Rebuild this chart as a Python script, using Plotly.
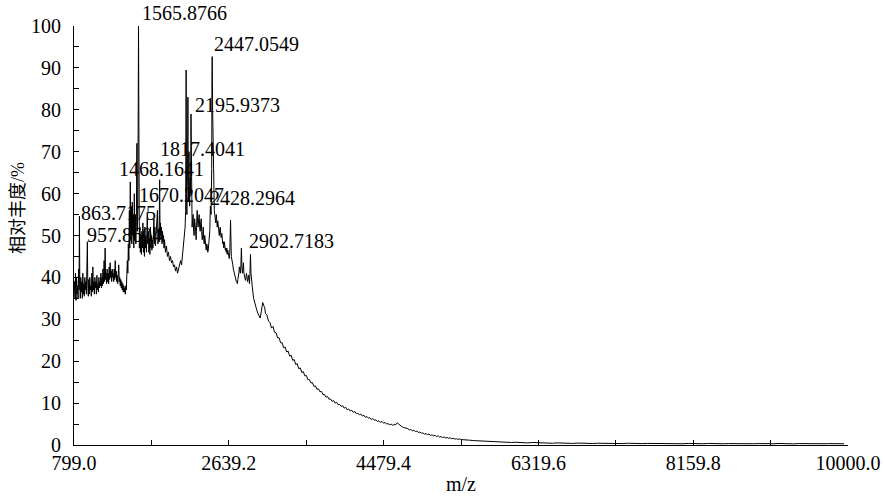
import plotly.graph_objects as go

# ---- spectrum (m/z, relative abundance %) ----
mz_peaks_region = [
    799, 805, 811, 817, 823, 829, 835, 841, 847, 853, 859, 863.7, 868, 874, 880, 886, 892, 898,
    904, 910, 916, 922, 928, 934, 940, 946, 952, 957.9, 963, 969, 975, 981, 987, 993, 999, 1005,
    1011, 1017, 1023, 1029, 1035, 1041, 1047, 1053, 1059, 1065, 1071, 1077, 1083, 1089, 1095,
    1101, 1107, 1113, 1119, 1125, 1131, 1137, 1143, 1149, 1157, 1163, 1169, 1175, 1181, 1187,
    1193, 1199, 1205, 1211, 1217, 1223, 1229, 1235, 1241, 1247, 1253, 1259, 1265, 1271, 1277,
    1283, 1289, 1295, 1301, 1307, 1313, 1319, 1325, 1331, 1337, 1343, 1349, 1355, 1361, 1367,
    1373, 1379, 1385, 1391, 1397, 1403, 1409, 1415, 1421, 1427, 1433, 1439, 1445, 1451, 1457,
    1462, 1468.2, 1474, 1480, 1486, 1492, 1498, 1504, 1510, 1516, 1522, 1528, 1534, 1540, 1547,
    1552, 1558, 1565.9, 1571, 1576, 1582, 1588, 1594, 1600, 1606, 1612, 1618, 1624, 1630, 1636,
    1642, 1648, 1654, 1660, 1665, 1670.2, 1676, 1683, 1689, 1695, 1701, 1707, 1713, 1719, 1725,
    1731, 1737, 1743, 1749, 1755, 1761, 1767, 1773, 1779, 1785, 1791, 1797, 1803, 1810, 1817.4,
    1822, 1827, 1833, 1839, 1845, 1851, 1857, 1863, 1869, 1875, 1886, 1898, 1910, 1922, 1934,
    1946, 1958, 1970, 1982, 1994, 2006, 2018, 2030, 2042, 2054, 2066, 2078, 2090, 2102, 2114,
    2120, 2126, 2132, 2137, 2141, 2144, 2150, 2153, 2156, 2159, 2162, 2166, 2170, 2174, 2177,
    2181, 2185, 2190, 2195.9, 2199, 2203, 2209, 2215, 2221, 2227, 2233, 2239, 2245, 2251, 2257,
    2263, 2269, 2275, 2281, 2287, 2293, 2299, 2305, 2311, 2317, 2323, 2329, 2335, 2341, 2347,
    2353, 2359, 2365, 2371, 2377, 2383, 2389, 2395, 2401, 2407, 2413, 2420, 2428.3, 2432, 2436,
    2439, 2442, 2447.1, 2451, 2455, 2459, 2463, 2467, 2472, 2478, 2484, 2490, 2496, 2502, 2508,
    2514, 2520, 2526, 2532, 2538, 2544, 2550, 2556, 2562, 2568, 2574, 2580, 2586, 2592, 2598,
    2603, 2609, 2615, 2621, 2627, 2633, 2639, 2645, 2651, 2660, 2669, 2675, 2681, 2687, 2693,
    2699, 2705, 2711, 2717, 2723, 2729, 2735, 2741, 2747, 2753, 2759, 2765, 2771, 2777, 2783,
    2789, 2795, 2801, 2807, 2813, 2819, 2825, 2831, 2837, 2843, 2849, 2855, 2861, 2867, 2873,
    2879, 2885, 2891, 2897, 2902.7, 2910, 2920, 2934, 2950, 2968, 2983, 2998, 3012, 3027, 3042,
    3057, 3066,
]
int_peaks_region = [
    36, 39, 35, 41, 34.5, 40, 36, 38, 35, 42, 37, 54.6, 38, 35, 40, 36.5, 39, 35,
    41, 36, 38.5, 35.5, 40, 37, 39, 36, 41, 48.5, 38, 35.5, 39.5, 36, 40, 37, 38, 35.5,
    41, 36.5, 42.5, 37, 39, 36, 40, 37.5, 39, 36, 40.5, 37, 38.5, 36.5, 40,
    37.5, 39, 38, 41, 37.5, 40, 38, 42, 38.5, 44, 39, 47, 39.5, 41, 38.5,
    42, 39, 41, 38.5, 42.5, 39.5, 43.5, 40, 41.5, 39, 42, 40, 41, 39, 42,
    39.5, 44, 40, 41.5, 39, 40.5, 38.5, 42, 43, 39, 40, 38, 39.5, 37.5, 39,
    37, 38.5, 36.5, 38, 36.5, 37.5, 36, 38, 37, 40, 44, 41, 48, 44, 56,
    47, 62.8, 50, 56, 48, 58, 50, 55, 47, 60, 49, 55, 48, 53, 72,
    51, 56, 100, 55, 47, 52, 46, 50, 45.5, 51, 47, 53, 46, 49, 45,
    52, 47, 50, 46, 49, 55.5, 48, 51, 46, 49, 45.5, 52, 47, 50, 46.5,
    49, 47, 51, 54, 48, 52, 47.5, 50, 49, 52, 56, 48, 51, 49, 63.3,
    50, 53, 49, 52, 48, 51, 48.5, 50, 47, 49, 46, 47.5, 45, 46, 44,
    45, 43.5, 44, 42.5, 43, 41.5, 42.5, 41, 42, 42.5, 44, 43, 45.5, 47,
    50, 52, 56, 89.5, 60, 55, 62, 66, 83, 61, 58, 63, 70, 60, 57,
    61, 64, 60, 79, 62, 58, 52, 54, 55, 51, 50, 54, 53, 51, 49,
    53, 56, 53, 52, 54, 55, 52, 51, 53, 54, 51, 49, 50, 52, 49,
    48, 50, 49, 47.5, 46.5, 48, 47.5, 46, 46.5, 48, 49, 51, 57, 55, 60,
    66, 87, 92.7, 80, 73, 62, 60, 58, 56, 55, 54, 53, 55, 53, 52,
    53.5, 52, 51, 50, 51.5, 52, 50, 49.5, 50.5, 49, 48, 48.5, 47, 48.5, 47,
    46.5, 47, 46, 47, 45.5, 46.5, 46, 45, 44.5, 46, 53.7, 45, 44.5, 44, 43,
    42, 41.5, 41, 40.5, 39.5, 39.2, 39, 38.8, 38.5, 39.5, 40, 41, 42.5, 41.5, 41,
    43, 47, 42.5, 41, 42, 43.5, 41, 40, 40.5, 39.3, 40, 41, 40.2, 39, 39.5,
    40.5, 39.5, 38.5, 41, 45.5, 41, 40, 37.5, 35, 33.5, 32.5, 31.5, 31, 30.3, 32,
    34, 33.2,
]

mz_decay = [
    3075, 3093, 3111, 3129, 3147, 3165, 3183, 3201, 3219, 3237, 3255, 3273, 3291, 3309, 3327,
    3345, 3363, 3381, 3399, 3417, 3435, 3453, 3471, 3489, 3507, 3525, 3543, 3561, 3579, 3597,
    3615, 3633, 3651, 3669, 3687, 3705, 3723, 3741, 3759, 3777, 3795, 3813, 3831, 3849, 3867,
    3885, 3903, 3921, 3939, 3957, 3975, 3993, 4011, 4029, 4047, 4065, 4083, 4101, 4119, 4137,
    4155, 4173, 4191, 4209, 4227, 4245, 4263, 4281, 4299, 4317, 4335, 4353, 4371, 4389, 4407,
    4425, 4443, 4461, 4479, 4497, 4515, 4533, 4551, 4569, 4587, 4605, 4623, 4641, 4659, 4677,
    4695, 4713, 4731, 4749, 4767, 4785, 4803, 4821, 4839, 4857, 4875, 4893, 4911, 4929, 4947,
    4965, 4983, 5001, 5019, 5037, 5055, 5073, 5091, 5109, 5127, 5145, 5163, 5181, 5199, 5217,
    5235, 5253, 5271, 5289, 5307, 5325, 5343, 5361, 5379, 5397, 5415,
]
int_decay = [
    32.8, 31.4, 31.0, 29.6, 29.2, 27.9, 28.3, 26.9, 26.8, 25.6, 25.6, 24.4, 24.4, 23.2, 23.4,
    22.2, 22.4, 21.2, 21.4, 20.2, 20.4, 19.2, 19.4, 18.2, 18.4, 17.3, 17.5, 16.5, 16.6, 15.6,
    15.6, 14.8, 14.9, 14.0, 14.1, 13.3, 13.4, 12.7, 12.8, 12.0, 12.1, 11.4, 11.6, 10.9, 11.0,
    10.4, 10.6, 10.0, 10.2, 9.6, 9.7, 9.2, 9.4, 8.8, 9.0, 8.4, 8.6, 8.1, 8.3, 7.8,
    8.0, 7.5, 7.6, 7.2, 7.4, 6.9, 7.1, 6.6, 6.8, 6.4, 6.5, 6.1, 6.3, 5.9, 6.0,
    5.6, 5.8, 5.4, 5.6, 5.2, 5.4, 5.0, 5.1, 4.8, 5.0, 4.7, 4.9, 4.8, 5.3, 5.0,
    4.6, 4.4, 4.2, 4.1, 3.9, 3.9, 3.6, 3.7, 3.4, 3.5, 3.2, 3.3, 3.0, 3.1, 2.8,
    2.9, 2.6, 2.7, 2.5, 2.6, 2.3, 2.4, 2.2, 2.3, 2.0, 2.2, 1.9, 2.0, 1.8, 1.9,
    1.7, 1.8, 1.6, 1.7, 1.5, 1.6, 1.4, 1.5, 1.35, 1.45, 1.3,
]

mz_baseline = [
    5460, 5501, 5550, 5591, 5640, 5681, 5730, 5770, 5820, 5866, 5910, 5961, 6000, 6045, 6090,
    6128, 6190, 6248, 6300, 6367, 6420, 6487, 6540, 6607, 6660, 6726, 6790, 6846, 6900, 6965,
    7020, 7084, 7140, 7204, 7260, 7323, 7380, 7443, 7500, 7562, 7620, 7682, 7740, 7801, 7860,
    7921, 7980, 8040, 8100, 8160, 8220, 8279, 8340, 8398, 8460, 8518, 8580, 8637, 8700, 8757,
    8820, 8877, 8940, 8996, 9060, 9115, 9180, 9235, 9300, 9354, 9420, 9474, 9530, 9593, 9650,
    9713, 9770, 9832, 9890, 9952, 10000,
]
int_baseline = [
    1.3, 1.2, 1.15, 1.05, 1.0, 0.95, 0.9, 0.85, 0.8, 0.78, 0.72, 0.7, 0.66, 0.6, 0.66,
    0.6, 0.55, 0.5, 0.6, 0.55, 0.45, 0.5, 0.42, 0.5, 0.4, 0.45, 0.38, 0.46, 0.4, 0.45,
    0.36, 0.42, 0.38, 0.45, 0.36, 0.4, 0.34, 0.42, 0.36, 0.4, 0.33, 0.38, 0.35, 0.42, 0.34,
    0.38, 0.32, 0.36, 0.3, 0.38, 0.33, 0.36, 0.3, 0.38, 0.32, 0.36, 0.3, 0.34, 0.3, 0.36,
    0.3, 0.35, 0.3, 0.34, 0.28, 0.34, 0.3, 0.36, 0.3, 0.33, 0.28, 0.34, 0.3, 0.32, 0.28,
    0.34, 0.3, 0.33, 0.28, 0.32, 0.3,
]

mz = mz_peaks_region + mz_decay + mz_baseline
intensity = int_peaks_region + int_decay + int_baseline

# ---- labelled peaks ----
peak_mz = [1565.8766, 2447.0549, 2195.9373, 1817.4041, 1468.1641, 1670.2047, 2428.2964,
           863.7175, 957.8604, 2902.7183]
peak_int = [100, 92.7, 79, 63.3, 62.8, 55.5, 57, 54.6, 48.5, 45.5]
peak_shift = [(1, 0), (-1, 0), (1, -4), (-2, 18), (-13, 0), (-10, 4), (-3, -5),
              (0, -10), (-2, -6), (-4, 0)]

# ---- axes ----
x_tickvals = [799.0, 2639.2, 4479.4, 6319.6, 8159.8, 10000.0]
x_ticktext = ["799.0", "2639.2", "4479.4", "6319.6", "8159.8", "10000.0"]
y_tickvals = [0, 10, 20, 30, 40, 50, 60, 70, 80, 90, 100]

FONT = "Liberation Serif, Times New Roman, Noto Sans CJK SC, serif"

fig = go.Figure()
fig.add_trace(go.Scatter(x=mz, y=intensity, mode="lines",
                         line=dict(color="black", width=1), hoverinfo="skip",
                         showlegend=False))

annotations = []
for m, v, (dx, dy) in zip(peak_mz, peak_int, peak_shift):
    annotations.append(dict(x=m, y=v, xref="x", yref="y", text=f"{m:.4f}",
                            showarrow=False, xanchor="left", yanchor="bottom",
                            xshift=dx, yshift=dy,
                            font=dict(family=FONT, size=20, color="black")))
annotations.append(dict(x=-0.072, y=0.566, xref="paper", yref="paper", text="相对丰度/%",
                        showarrow=False, textangle=-90, xanchor="center", yanchor="middle",
                        font=dict(family=FONT, size=18, color="black")))
annotations.append(dict(x=0.5, y=-0.094, xref="paper", yref="paper", text="m/z",
                        showarrow=False, xanchor="center", yanchor="middle",
                        font=dict(family=FONT, size=20, color="black")))

fig.update_layout(
    width=885, height=496, autosize=False,
    margin=dict(l=74, r=37, t=26, b=51, pad=0),
    paper_bgcolor="white", plot_bgcolor="white",
    font=dict(family=FONT, size=20, color="black"),
    annotations=annotations,
    xaxis=dict(range=[799, 10000], tickmode="array", tickvals=x_tickvals, ticktext=x_ticktext,
               automargin=False,
               ticks="inside", ticklen=5, tickwidth=1, tickcolor="black",
               showline=True, linecolor="black", linewidth=1, showgrid=False, zeroline=False,
               minor=dict(ticks="inside", ticklen=5, tickwidth=1, tickcolor="black",
                          tick0=799, dtick=920.1, showgrid=False),
               tickfont=dict(family=FONT, size=20, color="black")),
    yaxis=dict(range=[0, 100], tickmode="array", tickvals=y_tickvals,
               automargin=False,
               ticks="inside", ticklen=5, tickwidth=1, tickcolor="black",
               showline=True, linecolor="black", linewidth=1, showgrid=False, zeroline=False,
               minor=dict(ticks="inside", ticklen=5, tickwidth=1, tickcolor="black",
                          tick0=0, dtick=5, showgrid=False),
               ticklabelstandoff=8,
               tickfont=dict(family=FONT, size=20, color="black")),
)

# remove the browser's default 8px body margin so the figure fills the window exactly
fig.write_html("out.html", config={"displayModeBar": False},
               post_script="document.body.style.margin='0';document.body.style.overflow='hidden';")
